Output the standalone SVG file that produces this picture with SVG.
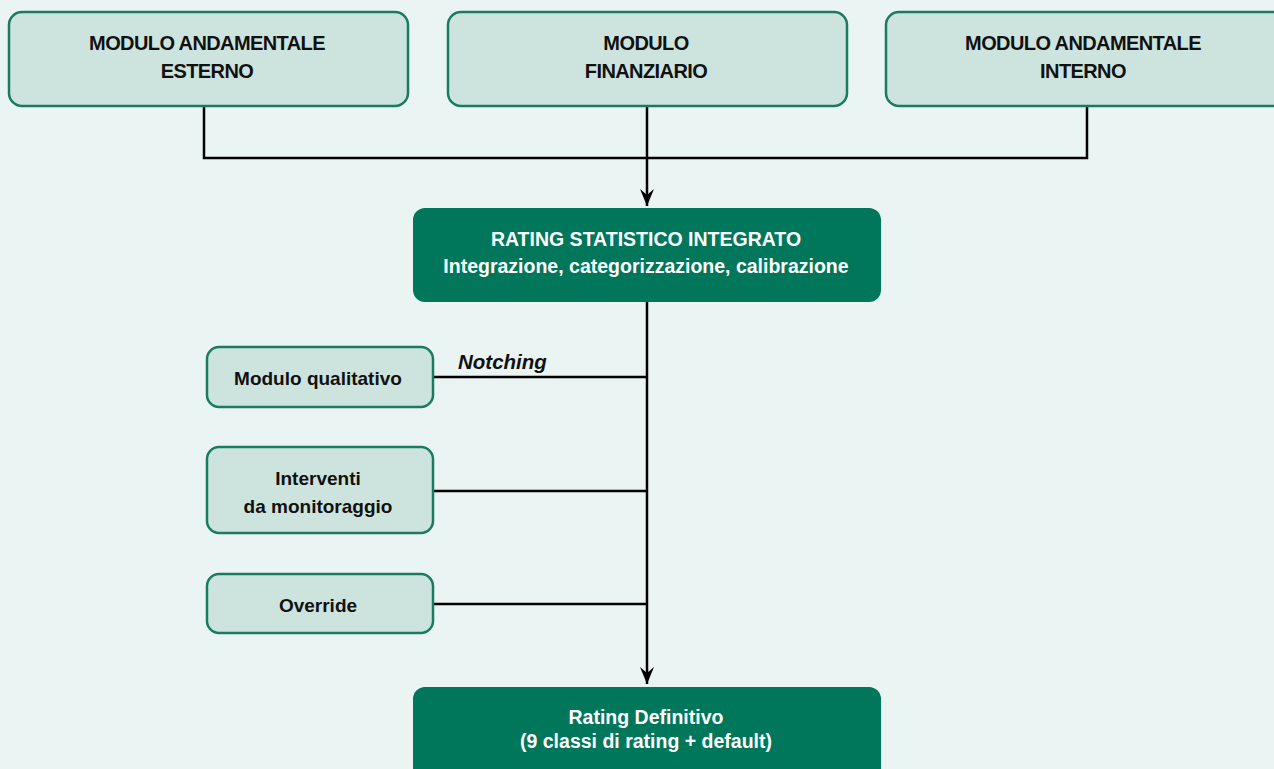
<svg xmlns="http://www.w3.org/2000/svg" width="1274" height="769" viewBox="0 0 1274 769">
<defs>
<style>
.bg{fill:#EAF4F2}
.lt{fill:#CDE4DE;stroke:#1B7B61;stroke-width:2.5}
.dk{fill:#00765A}
.t{font-family:"Liberation Sans",Arial,sans-serif;font-weight:bold;font-size:19px;text-anchor:middle;fill:#111}
.cap{font-size:20px;letter-spacing:-0.6px}
.w{fill:#fff;font-size:19.5px}
.c{fill:none;stroke:#000;stroke-width:2.5}
</style>
<marker id="ah" viewBox="0 0 17 14" refX="17" refY="7" markerWidth="17" markerHeight="14" markerUnits="userSpaceOnUse" orient="auto">
<path d="M0,0 L6,7 L0,14 L17,7 Z" fill="#000"/>
</marker>
</defs>
<rect class="bg" x="0" y="0" width="1274" height="769"/>
<g id="connectors">
<path class="c" d="M204,106 V158 H1087 V106"/>
<path class="c" d="M647,106 V206" marker-end="url(#ah)"/>
<path class="c" d="M647,302 V684" marker-end="url(#ah)"/>
<path class="c" d="M433,377 H647"/>
<path class="c" d="M433,491 H647"/>
<path class="c" d="M433,604 H647"/>
<text class="t" x="458" y="369" style="text-anchor:start;font-style:italic;font-size:20.5px">Notching</text>
</g>
<g id="n-esterno">
<rect class="lt" x="9" y="12" width="399" height="94" rx="13"/>
<text class="t cap" x="207" y="50">MODULO ANDAMENTALE</text>
<text class="t cap" x="207" y="78">ESTERNO</text>
</g>
<g id="n-finanziario">
<rect class="lt" x="448" y="12" width="399" height="94" rx="13"/>
<text class="t cap" x="646" y="50">MODULO</text>
<text class="t cap" x="646" y="78">FINANZIARIO</text>
</g>
<g id="n-interno">
<rect class="lt" x="886" y="12" width="400" height="94" rx="13"/>
<text class="t cap" x="1083" y="50">MODULO ANDAMENTALE</text>
<text class="t cap" x="1083" y="78">INTERNO</text>
</g>
<g id="n-rating-integrato">
<rect class="dk" x="413" y="208" width="468" height="94" rx="12"/>
<text class="t w" x="646" y="246">RATING STATISTICO INTEGRATO</text>
<text class="t w" x="646" y="273">Integrazione, categorizzazione, calibrazione</text>
</g>
<g id="n-qualitativo">
<rect class="lt" x="207" y="347" width="226" height="60" rx="12"/>
<text class="t" x="318" y="385">Modulo qualitativo</text>
</g>
<g id="n-monitoraggio">
<rect class="lt" x="207" y="447" width="226" height="86" rx="12"/>
<text class="t" x="318" y="485">Interventi</text>
<text class="t" x="318" y="513">da monitoraggio</text>
</g>
<g id="n-override">
<rect class="lt" x="207" y="574" width="226" height="59" rx="12"/>
<text class="t" x="318" y="612">Override</text>
</g>
<g id="n-definitivo">
<rect class="dk" x="413" y="687" width="468" height="100" rx="12"/>
<text class="t w" x="646" y="724">Rating Definitivo</text>
<text class="t w" x="646" y="748">(9 classi di rating + default)</text>
</g>
</svg>
